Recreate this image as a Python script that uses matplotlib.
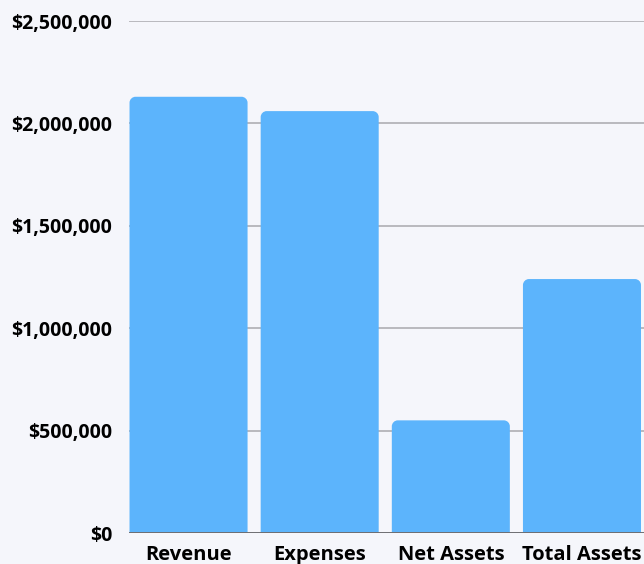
import matplotlib
matplotlib.use("Agg")
import matplotlib.pyplot as plt
from matplotlib.path import Path
from matplotlib.patches import PathPatch
from matplotlib.ticker import FuncFormatter

categories = ["Revenue", "Expenses", "Net Assets", "Total Assets"]
values = [2130000, 2060000, 550000, 1240000]
yticks = [0, 500000, 1000000, 1500000, 2000000, 2500000]

bg = "#f5f6fb"
bar_color = "#5cb4fc"

plt.rcParams['font.family'] = ['Open Sans', 'DejaVu Sans']

fig = plt.figure(figsize=(6.44, 5.64), dpi=100, facecolor=bg)
# axes placed in pixels: left 129, right 644, bottom 533, top 21
ax = fig.add_axes([129/644, (564-533)/564, (644-129)/644, (533-21)/564])
ax.set_facecolor(bg)

ax.set_xlim(-0.454, 3.473)
ax.set_ylim(0, 2500000)

# pixel -> data scale for rounded corners
px_x = (3.473 + 0.454) / (644 - 129)
px_y = 2500000 / (533 - 21)
r = 6
rx, ry = r * px_x, r * px_y
k = 0.5523

def rounded_bar(xc, w, h):
    x0, x1 = xc - w/2, xc + w/2
    verts = [(x0, 0), (x0, h - ry),
             (x0, h - ry + k*ry), (x0 + rx - k*rx, h), (x0 + rx, h),
             (x1 - rx, h),
             (x1 - rx + k*rx, h), (x1, h - ry + k*ry), (x1, h - ry),
             (x1, 0), (x0, 0)]
    codes = [Path.MOVETO, Path.LINETO,
             Path.CURVE4, Path.CURVE4, Path.CURVE4,
             Path.LINETO,
             Path.CURVE4, Path.CURVE4, Path.CURVE4,
             Path.LINETO, Path.CLOSEPOLY]
    return PathPatch(Path(verts, codes), facecolor=bar_color, edgecolor="none", zorder=3)

for i, v in enumerate(values):
    ax.add_patch(rounded_bar(i, 0.90, v))

ax.set_yticks(yticks)
ax.yaxis.set_major_formatter(FuncFormatter(lambda v, p: "${:,.0f}".format(v)))
for t in yticks[1:]:
    ax.axhline(t, color="#b9b9be", lw=1.4, zorder=1)
ax.axhline(0, color="#6e6e72", lw=1.4, zorder=4)

ax.set_xticks(range(len(categories)))
ax.set_xticklabels(categories)
ax.tick_params(axis="both", length=0)
ax.tick_params(axis="y", pad=12)
ax.tick_params(axis="x", pad=8.5)
for lab in ax.get_yticklabels():
    lab.set_fontweight("bold")
    lab.set_fontsize(14)
for lab in ax.get_xticklabels():
    lab.set_fontweight("bold")
    lab.set_fontsize(14.5)
for s in ax.spines.values():
    s.set_visible(False)

fig.savefig("out.png", dpi=100, facecolor=bg)
